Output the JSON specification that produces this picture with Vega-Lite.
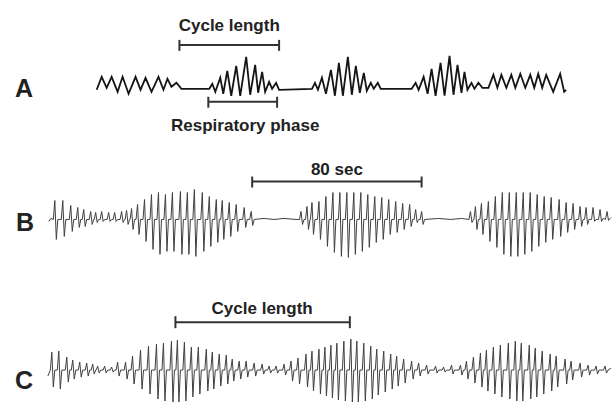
{
  "$schema": "https://vega.github.io/schema/vega-lite/v6.json",
  "width": 613,
  "height": 404,
  "autosize": {"type": "fit", "contains": "padding"},
  "padding": 0,
  "background": "white",
  "config": {"view": {"stroke": null}},
  "datasets": {
    "a": [
      {"x":97,"y":90},{"x":102,"y":77},{"x":107,"y":88},{"x":112,"y":77},{"x":118,"y":92},{"x":123,"y":77},{"x":129,"y":94},{"x":136,"y":77},{"x":141,"y":90},{"x":146,"y":78},{"x":152,"y":92},{"x":159,"y":77},{"x":164,"y":90},{"x":168,"y":79},{"x":172,"y":87},{"x":177,"y":83},{"x":182,"y":89},{"x":210,"y":89},
      {"x":213,"y":84},{"x":216,"y":92},{"x":221,"y":78},{"x":224,"y":94},{"x":228,"y":71},{"x":232,"y":96},{"x":237,"y":66},{"x":241,"y":96},{"x":247,"y":57},{"x":251,"y":95},{"x":256,"y":65},{"x":259,"y":93},{"x":263,"y":72},{"x":266,"y":92},{"x":270,"y":82},{"x":273,"y":89},{"x":277,"y":83},{"x":280,"y":90},{"x":313,"y":89},
      {"x":316,"y":83},{"x":319,"y":90},{"x":323,"y":78},{"x":327,"y":94},{"x":332,"y":70},{"x":336,"y":96},{"x":340,"y":63},{"x":344,"y":96},{"x":349,"y":57},{"x":353,"y":95},{"x":357,"y":66},{"x":361,"y":93},{"x":365,"y":73},{"x":368,"y":91},{"x":372,"y":83},{"x":375,"y":89},{"x":379,"y":83},{"x":382,"y":89},{"x":413,"y":89},
      {"x":417,"y":83},{"x":420,"y":90},{"x":425,"y":77},{"x":429,"y":94},{"x":433,"y":69},{"x":437,"y":96},{"x":442,"y":63},{"x":446,"y":96},{"x":451,"y":56},{"x":455,"y":95},{"x":459,"y":65},{"x":463,"y":93},{"x":466,"y":72},{"x":469,"y":90},{"x":473,"y":83},{"x":476,"y":89},{"x":480,"y":83},{"x":484,"y":88},{"x":490,"y":88},
      {"x":495,"y":75},{"x":499,"y":88},{"x":503,"y":75},{"x":508,"y":88},{"x":513,"y":75},{"x":517,"y":88},{"x":522,"y":74},{"x":527,"y":88},{"x":532,"y":75},{"x":536,"y":88},{"x":540,"y":74},{"x":544,"y":88},{"x":548,"y":75},{"x":555,"y":92},{"x":562,"y":74},{"x":566,"y":92},{"x":568,"y":90}
    ],
    "b": [
      {"x":49,"y":222},{"x":51,"y":219},
      {"x":53.5,"y":220},{"x":55,"y":201},{"x":56.5,"y":240},{"x":58,"y":220},
      {"x":61.5,"y":220},{"x":63,"y":201},{"x":64.5,"y":237},{"x":66,"y":220},
      {"x":69.5,"y":220},{"x":71,"y":206},{"x":72.5,"y":232},{"x":74,"y":220},
      {"x":76.5,"y":220},{"x":78,"y":208},{"x":79.5,"y":228},{"x":81,"y":220},
      {"x":82.5,"y":220},{"x":84,"y":210},{"x":85.5,"y":227},{"x":87,"y":220},
      {"x":89.5,"y":220},{"x":91,"y":212},{"x":92.5,"y":225},{"x":94,"y":220},
      {"x":94.5,"y":220},{"x":96,"y":213},{"x":97.5,"y":223},{"x":99,"y":220},
      {"x":100.5,"y":220},{"x":102,"y":212},{"x":103.5,"y":222},{"x":105,"y":220},
      {"x":107.5,"y":220},{"x":109,"y":213},{"x":110.5,"y":222},{"x":112,"y":220},
      {"x":113.5,"y":220},{"x":115,"y":213},{"x":116.5,"y":222},{"x":118,"y":220},
      {"x":120.5,"y":220},{"x":122,"y":212},{"x":123.5,"y":223},{"x":125,"y":220},
      {"x":125.5,"y":220},{"x":127,"y":211},{"x":128.5,"y":225},{"x":130,"y":220},
      {"x":130.5,"y":220},{"x":132,"y":209},{"x":133.5,"y":230},{"x":135,"y":220},
      {"x":136.5,"y":220},{"x":138,"y":205},{"x":139.5,"y":235},{"x":141,"y":220},
      {"x":143.5,"y":220},{"x":145,"y":200},{"x":146.5,"y":242},{"x":148,"y":220},
      {"x":150.5,"y":220},{"x":152,"y":195},{"x":153.5,"y":250},{"x":155,"y":220},
      {"x":157.5,"y":220},{"x":159,"y":193},{"x":160.5,"y":255},{"x":162,"y":220},
      {"x":164.5,"y":220},{"x":166,"y":195},{"x":167.5,"y":252},{"x":169,"y":220},
      {"x":171.5,"y":220},{"x":173,"y":193},{"x":174.5,"y":252},{"x":176,"y":220},
      {"x":179.5,"y":220},{"x":181,"y":192},{"x":182.5,"y":255},{"x":184,"y":220},
      {"x":186.5,"y":220},{"x":188,"y":193},{"x":189.5,"y":255},{"x":191,"y":220},
      {"x":193.5,"y":220},{"x":195,"y":190},{"x":196.5,"y":257},{"x":198,"y":220},
      {"x":201.5,"y":220},{"x":203,"y":193},{"x":204.5,"y":252},{"x":206,"y":220},
      {"x":208.5,"y":220},{"x":210,"y":197},{"x":211.5,"y":247},{"x":213,"y":220},
      {"x":215.5,"y":220},{"x":217,"y":200},{"x":218.5,"y":243},{"x":220,"y":220},
      {"x":221.5,"y":220},{"x":223,"y":201},{"x":224.5,"y":240},{"x":226,"y":220},
      {"x":228.5,"y":220},{"x":230,"y":203},{"x":231.5,"y":237},{"x":233,"y":220},
      {"x":235.5,"y":220},{"x":237,"y":205},{"x":238.5,"y":232},{"x":240,"y":220},
      {"x":243.5,"y":220},{"x":245,"y":208},{"x":246.5,"y":228},{"x":248,"y":220},
      {"x":250.5,"y":220},{"x":252,"y":212},{"x":253.5,"y":226},{"x":255,"y":220},
      {"x":265,"y":219},{"x":275,"y":220},{"x":285,"y":219},{"x":297,"y":220},
      {"x":300.5,"y":220},{"x":302,"y":212},{"x":303.5,"y":225},{"x":305,"y":220},
      {"x":306.5,"y":220},{"x":308,"y":207},{"x":309.5,"y":230},{"x":311,"y":220},
      {"x":311.5,"y":220},{"x":313,"y":203},{"x":314.5,"y":235},{"x":316,"y":220},
      {"x":318.5,"y":220},{"x":320,"y":202},{"x":321.5,"y":240},{"x":323,"y":220},
      {"x":325.5,"y":220},{"x":327,"y":197},{"x":328.5,"y":247},{"x":330,"y":220},
      {"x":332.5,"y":220},{"x":334,"y":193},{"x":335.5,"y":253},{"x":337,"y":220},
      {"x":339.5,"y":220},{"x":341,"y":193},{"x":342.5,"y":257},{"x":344,"y":220},
      {"x":346.5,"y":220},{"x":348,"y":193},{"x":349.5,"y":258},{"x":351,"y":220},
      {"x":353.5,"y":220},{"x":355,"y":193},{"x":356.5,"y":255},{"x":358,"y":220},
      {"x":360.5,"y":220},{"x":362,"y":193},{"x":363.5,"y":252},{"x":365,"y":220},
      {"x":367.5,"y":220},{"x":369,"y":195},{"x":370.5,"y":248},{"x":372,"y":220},
      {"x":374.5,"y":220},{"x":376,"y":197},{"x":377.5,"y":243},{"x":379,"y":220},
      {"x":381.5,"y":220},{"x":383,"y":198},{"x":384.5,"y":240},{"x":386,"y":220},
      {"x":388.5,"y":220},{"x":390,"y":200},{"x":391.5,"y":235},{"x":393,"y":220},
      {"x":395.5,"y":220},{"x":397,"y":202},{"x":398.5,"y":233},{"x":400,"y":220},
      {"x":402.5,"y":220},{"x":404,"y":204},{"x":405.5,"y":230},{"x":407,"y":220},
      {"x":409.5,"y":220},{"x":411,"y":205},{"x":412.5,"y":227},{"x":414,"y":220},
      {"x":415.5,"y":220},{"x":417,"y":210},{"x":418.5,"y":223},{"x":420,"y":220},
      {"x":421.5,"y":220},{"x":423,"y":212},{"x":424.5,"y":225},{"x":426,"y":220},
      {"x":440,"y":219},{"x":452,"y":220},{"x":463,"y":219},
      {"x":470.5,"y":220},{"x":472,"y":212},{"x":473.5,"y":223},{"x":475,"y":220},
      {"x":475.5,"y":220},{"x":477,"y":207},{"x":478.5,"y":230},{"x":480,"y":220},
      {"x":481.5,"y":220},{"x":483,"y":204},{"x":484.5,"y":235},{"x":486,"y":220},
      {"x":488.5,"y":220},{"x":490,"y":202},{"x":491.5,"y":242},{"x":493,"y":220},
      {"x":495.5,"y":220},{"x":497,"y":197},{"x":498.5,"y":248},{"x":500,"y":220},
      {"x":502.5,"y":220},{"x":504,"y":193},{"x":505.5,"y":255},{"x":507,"y":220},
      {"x":509.5,"y":220},{"x":511,"y":193},{"x":512.5,"y":257},{"x":514,"y":220},
      {"x":516.5,"y":220},{"x":518,"y":193},{"x":519.5,"y":257},{"x":521,"y":220},
      {"x":523.5,"y":220},{"x":525,"y":193},{"x":526.5,"y":255},{"x":528,"y":220},
      {"x":530.5,"y":220},{"x":532,"y":193},{"x":533.5,"y":252},{"x":535,"y":220},
      {"x":537.5,"y":220},{"x":539,"y":195},{"x":540.5,"y":247},{"x":542,"y":220},
      {"x":544.5,"y":220},{"x":546,"y":197},{"x":547.5,"y":243},{"x":549,"y":220},
      {"x":551.5,"y":220},{"x":553,"y":198},{"x":554.5,"y":240},{"x":556,"y":220},
      {"x":559.5,"y":220},{"x":561,"y":200},{"x":562.5,"y":237},{"x":564,"y":220},
      {"x":566.5,"y":220},{"x":568,"y":203},{"x":569.5,"y":233},{"x":571,"y":220},
      {"x":573.5,"y":220},{"x":575,"y":204},{"x":576.5,"y":230},{"x":578,"y":220},
      {"x":580.5,"y":220},{"x":582,"y":207},{"x":583.5,"y":227},{"x":585,"y":220},
      {"x":586.5,"y":220},{"x":588,"y":208},{"x":589.5,"y":225},{"x":591,"y":220},
      {"x":593.5,"y":220},{"x":595,"y":208},{"x":596.5,"y":222},{"x":598,"y":220},
      {"x":600.5,"y":220},{"x":602,"y":210},{"x":603.5,"y":222},{"x":605,"y":219},
      {"x":607.5,"y":220},{"x":609,"y":212},{"x":610.5,"y":221},{"x":612,"y":219},{"x":613,"y":218}
    ],
    "c": [
      {"x":48,"y":377},
      {"x":50.5,"y":371},{"x":52,"y":353},{"x":53.5,"y":388},{"x":55,"y":371},
      {"x":57.5,"y":371},{"x":59,"y":352},{"x":60.5,"y":390},{"x":62,"y":371},
      {"x":65.5,"y":371},{"x":67,"y":358},{"x":68.5,"y":383},{"x":70,"y":371},
      {"x":71.5,"y":371},{"x":73,"y":361},{"x":74.5,"y":380},{"x":76,"y":371},
      {"x":78.5,"y":371},{"x":80,"y":363},{"x":81.5,"y":378},{"x":83,"y":371},
      {"x":85.5,"y":371},{"x":87,"y":364},{"x":88.5,"y":377},{"x":90,"y":371},
      {"x":91.5,"y":371},{"x":93,"y":365},{"x":94.5,"y":375},{"x":96,"y":371},
      {"x":96.5,"y":371},{"x":98,"y":367},{"x":99.5,"y":374},{"x":101,"y":371},
      {"x":103.5,"y":371},{"x":105,"y":367},{"x":106.5,"y":374},{"x":108,"y":371},
      {"x":110.5,"y":371},{"x":112,"y":368},{"x":113.5,"y":373},{"x":115,"y":371},
      {"x":116.5,"y":371},{"x":118,"y":363},{"x":119.5,"y":377},{"x":121,"y":371},
      {"x":124.5,"y":371},{"x":126,"y":363},{"x":127.5,"y":380},{"x":129,"y":371},
      {"x":131.5,"y":371},{"x":133,"y":357},{"x":134.5,"y":385},{"x":136,"y":371},
      {"x":139.5,"y":371},{"x":141,"y":351},{"x":142.5,"y":390},{"x":144,"y":371},
      {"x":147.5,"y":371},{"x":149,"y":347},{"x":150.5,"y":395},{"x":152,"y":371},
      {"x":155.5,"y":371},{"x":157,"y":345},{"x":158.5,"y":400},{"x":160,"y":371},
      {"x":162.5,"y":371},{"x":164,"y":344},{"x":165.5,"y":402},{"x":167,"y":371},
      {"x":170.5,"y":371},{"x":172,"y":342},{"x":173.5,"y":403},{"x":175,"y":371},
      {"x":176.5,"y":371},{"x":178,"y":341},{"x":179.5,"y":403},{"x":181,"y":371},
      {"x":183.5,"y":371},{"x":185,"y":343},{"x":186.5,"y":402},{"x":188,"y":371},
      {"x":190.5,"y":371},{"x":192,"y":348},{"x":193.5,"y":398},{"x":195,"y":371},
      {"x":197.5,"y":371},{"x":199,"y":348},{"x":200.5,"y":395},{"x":202,"y":371},
      {"x":205.5,"y":371},{"x":207,"y":350},{"x":208.5,"y":392},{"x":210,"y":371},
      {"x":211.5,"y":371},{"x":213,"y":353},{"x":214.5,"y":390},{"x":216,"y":371},
      {"x":218.5,"y":371},{"x":220,"y":355},{"x":221.5,"y":387},{"x":223,"y":371},
      {"x":225.5,"y":371},{"x":227,"y":356},{"x":228.5,"y":385},{"x":230,"y":371},
      {"x":231.5,"y":371},{"x":233,"y":360},{"x":234.5,"y":382},{"x":236,"y":371},
      {"x":238.5,"y":371},{"x":240,"y":362},{"x":241.5,"y":380},{"x":243,"y":371},
      {"x":245.5,"y":371},{"x":247,"y":362},{"x":248.5,"y":378},{"x":250,"y":371},
      {"x":253.5,"y":371},{"x":255,"y":364},{"x":256.5,"y":377},{"x":258,"y":371},
      {"x":261.5,"y":371},{"x":263,"y":365},{"x":264.5,"y":375},{"x":266,"y":371},
      {"x":268.5,"y":371},{"x":270,"y":367},{"x":271.5,"y":374},{"x":273,"y":371},
      {"x":275.5,"y":371},{"x":277,"y":367},{"x":278.5,"y":374},{"x":280,"y":371},
      {"x":283.5,"y":371},{"x":285,"y":365},{"x":286.5,"y":376},{"x":288,"y":371},
      {"x":290.5,"y":371},{"x":292,"y":362},{"x":293.5,"y":382},{"x":295,"y":371},
      {"x":297.5,"y":371},{"x":299,"y":359},{"x":300.5,"y":385},{"x":302,"y":371},
      {"x":305.5,"y":371},{"x":307,"y":355},{"x":308.5,"y":388},{"x":310,"y":371},
      {"x":311.5,"y":371},{"x":313,"y":352},{"x":314.5,"y":392},{"x":316,"y":371},
      {"x":318.5,"y":371},{"x":320,"y":350},{"x":321.5,"y":395},{"x":323,"y":371},
      {"x":324.5,"y":371},{"x":326,"y":348},{"x":327.5,"y":397},{"x":329,"y":371},
      {"x":330.5,"y":371},{"x":332,"y":346},{"x":333.5,"y":399},{"x":335,"y":371},
      {"x":336.5,"y":371},{"x":338,"y":344},{"x":339.5,"y":401},{"x":341,"y":371},
      {"x":343.5,"y":371},{"x":345,"y":342},{"x":346.5,"y":402},{"x":348,"y":371},
      {"x":350.5,"y":371},{"x":352,"y":340},{"x":353.5,"y":403},{"x":355,"y":371},
      {"x":356.5,"y":371},{"x":358,"y":342},{"x":359.5,"y":403},{"x":361,"y":371},
      {"x":363.5,"y":371},{"x":365,"y":344},{"x":366.5,"y":402},{"x":368,"y":371},
      {"x":370.5,"y":371},{"x":372,"y":347},{"x":373.5,"y":400},{"x":375,"y":371},
      {"x":376.5,"y":371},{"x":378,"y":350},{"x":379.5,"y":396},{"x":381,"y":371},
      {"x":383.5,"y":371},{"x":385,"y":352},{"x":386.5,"y":393},{"x":388,"y":371},
      {"x":390.5,"y":371},{"x":392,"y":355},{"x":393.5,"y":390},{"x":395,"y":371},
      {"x":396.5,"y":371},{"x":398,"y":357},{"x":399.5,"y":387},{"x":401,"y":371},
      {"x":403.5,"y":371},{"x":405,"y":360},{"x":406.5,"y":384},{"x":408,"y":371},
      {"x":411.5,"y":371},{"x":413,"y":362},{"x":414.5,"y":380},{"x":416,"y":371},
      {"x":418.5,"y":371},{"x":420,"y":364},{"x":421.5,"y":377},{"x":423,"y":371},
      {"x":426.5,"y":371},{"x":428,"y":366},{"x":429.5,"y":375},{"x":431,"y":371},
      {"x":435.5,"y":371},{"x":437,"y":367},{"x":438.5,"y":374},{"x":440,"y":371},
      {"x":443.5,"y":371},{"x":445,"y":368},{"x":446.5,"y":373},{"x":448,"y":371},
      {"x":451.5,"y":371},{"x":453,"y":366},{"x":454.5,"y":375},{"x":456,"y":371},
      {"x":460.5,"y":371},{"x":462,"y":366},{"x":463.5,"y":376},{"x":465,"y":371},
      {"x":466.5,"y":371},{"x":468,"y":362},{"x":469.5,"y":380},{"x":471,"y":371},
      {"x":473.5,"y":371},{"x":475,"y":358},{"x":476.5,"y":384},{"x":478,"y":371},
      {"x":480.5,"y":371},{"x":482,"y":354},{"x":483.5,"y":388},{"x":485,"y":371},
      {"x":486.5,"y":371},{"x":488,"y":351},{"x":489.5,"y":392},{"x":491,"y":371},
      {"x":493.5,"y":371},{"x":495,"y":348},{"x":496.5,"y":395},{"x":498,"y":371},
      {"x":500.5,"y":371},{"x":502,"y":346},{"x":503.5,"y":398},{"x":505,"y":371},
      {"x":508.5,"y":371},{"x":510,"y":344},{"x":511.5,"y":400},{"x":513,"y":371},
      {"x":515.5,"y":371},{"x":517,"y":342},{"x":518.5,"y":402},{"x":520,"y":371},
      {"x":521.5,"y":371},{"x":523,"y":344},{"x":524.5,"y":402},{"x":526,"y":371},
      {"x":529.5,"y":371},{"x":531,"y":346},{"x":532.5,"y":400},{"x":534,"y":371},
      {"x":535.5,"y":371},{"x":537,"y":349},{"x":538.5,"y":398},{"x":540,"y":371},
      {"x":542.5,"y":371},{"x":544,"y":352},{"x":545.5,"y":395},{"x":547,"y":371},
      {"x":550.5,"y":371},{"x":552,"y":355},{"x":553.5,"y":392},{"x":555,"y":371},
      {"x":556.5,"y":371},{"x":558,"y":357},{"x":559.5,"y":388},{"x":561,"y":371},
      {"x":565.5,"y":371},{"x":567,"y":360},{"x":568.5,"y":385},{"x":570,"y":371},
      {"x":571.5,"y":371},{"x":573,"y":362},{"x":574.5,"y":381},{"x":576,"y":371},
      {"x":580.5,"y":371},{"x":582,"y":364},{"x":583.5,"y":378},{"x":585,"y":371},
      {"x":588.5,"y":371},{"x":590,"y":366},{"x":591.5,"y":376},{"x":593,"y":371},
      {"x":596.5,"y":371},{"x":598,"y":367},{"x":599.5,"y":375},{"x":601,"y":371},
      {"x":605.5,"y":371},{"x":607,"y":367},{"x":608.5,"y":374},{"x":610,"y":371},
      {"x":613,"y":369}
    ],
    "bars": [
      {"x":180,"x2":280,"y":45},
      {"x":209,"x2":278,"y":102},
      {"x":253,"x2":423,"y":182},
      {"x":176,"x2":351,"y":323}
    ],
    "caps": [
      {"x":180,"y":40,"y2":51},{"x":280,"y":40,"y2":51},
      {"x":209,"y":97,"y2":108},{"x":278,"y":97,"y2":108},
      {"x":253,"y":177,"y2":188},{"x":423,"y":177,"y2":188},
      {"x":176,"y":317,"y2":329},{"x":351,"y":317,"y2":329}
    ],
    "labels": [
      {"x":230,"y":31,"text":"Cycle length"},
      {"x":246,"y":131,"text":"Respiratory phase"},
      {"x":338,"y":175,"text":"80 sec"},
      {"x":263,"y":315,"text":"Cycle length"}
    ],
    "letters": [
      {"x":24,"y":97,"text":"A"},
      {"x":25,"y":232,"text":"B"},
      {"x":24,"y":390,"text":"C"}
    ]
  },
  "layer": [
    {
      "data": {"name": "a"},
      "mark": {"type": "line", "color": "#151515", "strokeWidth": 1.8, "strokeJoin": "miter"},
      "encoding": {
        "x": {"field": "x", "type": "quantitative", "scale": {"domain": [0, 613], "nice": false, "zero": false}, "axis": null},
        "y": {"field": "y", "type": "quantitative", "scale": {"domain": [0, 404], "nice": false, "zero": false, "reverse": true}, "axis": null}
      }
    },
    {
      "data": {"name": "b"},
      "mark": {"type": "line", "color": "#404040", "strokeWidth": 1},
      "encoding": {
        "x": {"field": "x", "type": "quantitative"},
        "y": {"field": "y", "type": "quantitative"}
      }
    },
    {
      "data": {"name": "c"},
      "mark": {"type": "line", "color": "#404040", "strokeWidth": 1},
      "encoding": {
        "x": {"field": "x", "type": "quantitative"},
        "y": {"field": "y", "type": "quantitative"}
      }
    },
    {
      "data": {"name": "bars"},
      "mark": {"type": "rule", "color": "#333333", "strokeWidth": 2},
      "encoding": {
        "x": {"field": "x", "type": "quantitative"},
        "x2": {"field": "x2"},
        "y": {"field": "y", "type": "quantitative"}
      }
    },
    {
      "data": {"name": "caps"},
      "mark": {"type": "rule", "color": "#333333", "strokeWidth": 2},
      "encoding": {
        "x": {"field": "x", "type": "quantitative"},
        "y": {"field": "y", "type": "quantitative"},
        "y2": {"field": "y2"}
      }
    },
    {
      "data": {"name": "labels"},
      "mark": {"type": "text", "font": "Liberation Sans", "fontWeight": "bold", "fontSize": 17, "color": "#222222", "align": "center", "baseline": "alphabetic"},
      "encoding": {
        "x": {"field": "x", "type": "quantitative"},
        "y": {"field": "y", "type": "quantitative"},
        "text": {"field": "text"}
      }
    },
    {
      "data": {"name": "letters"},
      "mark": {"type": "text", "font": "Liberation Sans", "fontWeight": "bold", "fontSize": 25, "color": "#222222", "align": "center", "baseline": "alphabetic"},
      "encoding": {
        "x": {"field": "x", "type": "quantitative"},
        "y": {"field": "y", "type": "quantitative"},
        "text": {"field": "text"}
      }
    }
  ]
}
